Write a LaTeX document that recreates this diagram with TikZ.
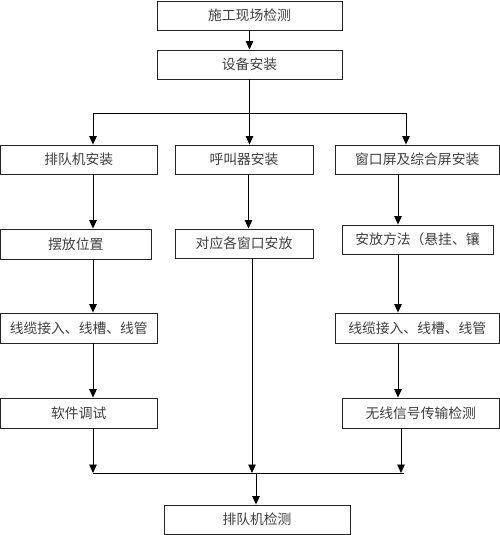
\documentclass[tikz,border=0pt]{standalone}
\usepackage{fontspec}
\newfontfamily\cjk{Noto Sans CJK SC}
\usetikzlibrary{arrows.meta}
\begin{document}
\begin{tikzpicture}[x=1pt,y=-1pt,
  box/.style={draw=black!85, line width=0.9pt, inner sep=0pt, text=black!75,
    font=\cjk\fontsize{13.8pt}{14pt}\selectfont, minimum height=29pt},
  arr/.style={draw=black, line width=0.9pt, -{Triangle[width=7.5pt,length=8.5pt]}},
  ln/.style={draw=black, line width=0.9pt}]
\useasboundingbox[fill=white] (0,0) rectangle (500,535);
% nodes
\node[box, minimum width=185pt] (b1) at (249.5,15.5) {施工现场检测};
\node[box, minimum width=185pt] (b2) at (249.5,64.5) {设备安装};
\node[box, minimum width=156.5pt] (r3a) at (78.75,159.5) {排队机安装};
\node[box, minimum width=138pt] (r3b) at (244,159.5) {呼叫器安装};
\node[box, minimum width=164pt] (r3c) at (417.25,159.5) {窗口屏及综合屏安装};
\node[box, minimum width=150.5pt, minimum height=30pt] (r4a) at (75.75,244) {摆放位置};
\node[box, minimum width=138pt] (r4b) at (244,243.5) {对应各窗口安放};
\node[box, minimum width=151pt] (r4c) at (417.5,239.5) {安放方法（悬挂、镶};
\node[box, minimum width=156.5pt, minimum height=30pt] (r5a) at (78.75,328) {线缆接入、线槽、线管};
\node[box, minimum width=164.5pt, minimum height=30pt] (r5c) at (417.25,328) {线缆接入、线槽、线管};
\node[box, minimum width=156.5pt, minimum height=30pt] (r6a) at (78.75,413) {软件调试};
\node[box, minimum width=157.5pt, minimum height=30pt] (r6c) at (420.75,413) {无线信号传输检测};
\node[box, minimum width=186pt] (b7) at (257,519.5) {排队机检测};
% column coordinates
\coordinate (cL) at (93,0);
\coordinate (cM) at (248.5,0);
\coordinate (cM2) at (252,0);
\coordinate (cR) at (398,0);
\coordinate (cR2) at (401,0);
\coordinate (j1) at (249.5,113);
\coordinate (jL) at (93,113);
\coordinate (jR) at (406,113);
\coordinate (kL) at (93,473);
\coordinate (kR) at (404,473);
\coordinate (kM) at (256,473);
% connectors
\draw[arr] (b1) -- (b2);
\draw[ln] (b2.south) -- (j1);
\draw[ln] (jL) -- (jR);
\draw[arr] (jL) -- (jL |- r3a.north);
\draw[arr] (j1) -- (j1 |- r3b.north);
\draw[arr] (jR) -- (jR |- r3c.north);
\draw[arr] (r3a.south -| cL) -- (r4a.north -| cL);
\draw[arr] (r3b.south -| cM) -- (r4b.north -| cM);
\draw[arr] (r3c.south -| cR) -- (r4c.north -| cR);
\draw[arr] (r4a.south -| cL) -- (r5a.north -| cL);
\draw[arr] (r4c.south -| cR) -- (r5c.north -| cR);
\draw[arr] (r5a.south -| cL) -- (r6a.north -| cL);
\draw[arr] (r5c.south -| cR) -- (r6c.north -| cR);
\draw[arr] (r6a.south -| cL) -- (kL);
\draw[arr] (r4b.south -| cM2) -- (kM -| cM2);
\draw[arr] (r6c.south -| cR2) -- (kR -| cR2);
\draw[ln] (kL) -- (kR);
\draw[arr] (kM) -- (b7.north -| kM);
\end{tikzpicture}
\end{document}
